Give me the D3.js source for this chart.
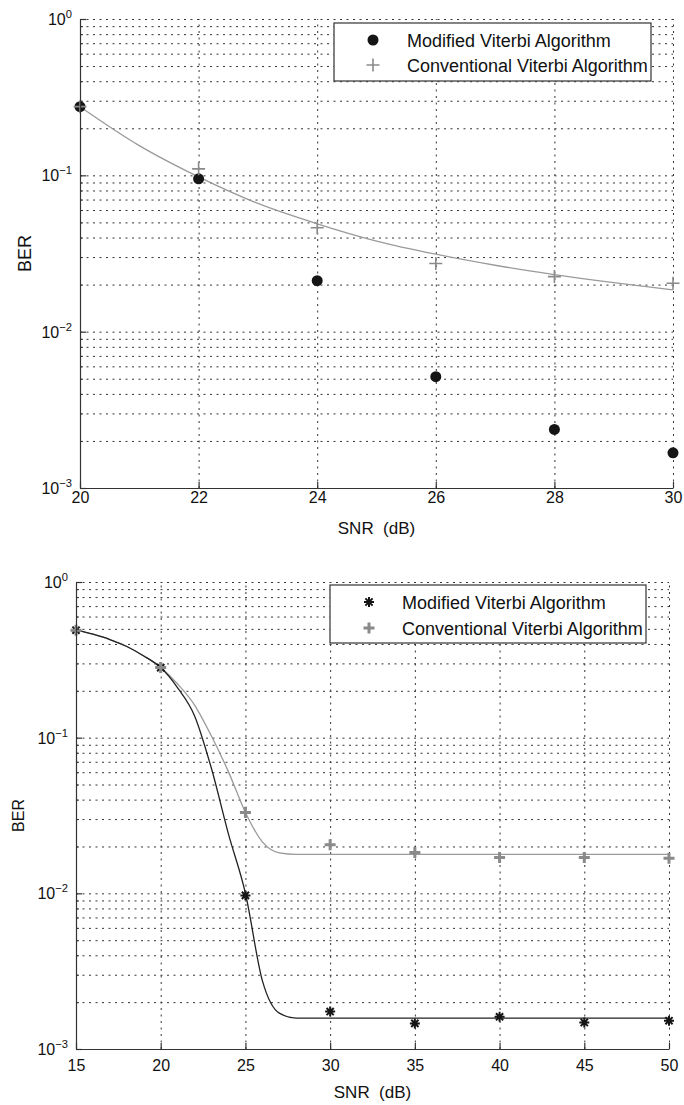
<!DOCTYPE html>
<html>
<head>
<meta charset="utf-8">
<script src="https://cdn.jsdelivr.net/npm/d3@7"></script>
<style>
  body { margin: 0; background: #fff; }
  svg text { font-family: "Liberation Sans", Arial, Helvetica, sans-serif; fill: #111; }
</style>
</head>
<body>
<svg id="fig" width="684" height="1105"></svg>
<script>
// ---- top panel: SNR 20..30 ----
const snrTop = [20, 22, 24, 26, 28, 30];
const modTop = [0.275, 0.095, 0.0212, 0.00515, 0.00237, 0.00168];
const convTop = [0.275, 0.11, 0.0462, 0.0273, 0.0225, 0.0204];
// fitted curve (conventional)
const fitSnrTop = [20, 21, 22, 23, 24, 25, 26, 27, 28, 29, 30];
const fitConvTop = [0.2748, 0.1549, 0.0977, 0.0661, 0.049, 0.038, 0.0313, 0.0266, 0.0232, 0.0206, 0.0185];

// ---- bottom panel: SNR 15..50 ----
const snrBot = [15, 20, 25, 30, 35, 40, 45, 50];
const modBot = [0.49, 0.282, 0.0097, 0.00174, 0.00146, 0.00161, 0.00148, 0.00152];
const convBot = [0.49, 0.282, 0.033, 0.0205, 0.0183, 0.017, 0.017, 0.0168];
const fitSnrBot = [15, 16, 17, 18, 19, 20, 21, 22, 23, 24, 25, 26, 27, 28, 30, 35, 40, 45, 50];
const fitModBot = [0.492, 0.462, 0.427, 0.385, 0.335, 0.282, 0.209, 0.138, 0.0631, 0.024, 0.01, 0.00275, 0.0017, 0.00158, 0.00158, 0.00158, 0.00158, 0.00158, 0.00158];
const fitConvBot = [0.492, 0.462, 0.427, 0.385, 0.335, 0.282, 0.221, 0.162, 0.102, 0.0603, 0.0331, 0.0214, 0.0182, 0.0178, 0.0178, 0.0178, 0.0178, 0.0178, 0.0178];

const xTicksTop = [20, 22, 24, 26, 28, 30];
const xTicksBot = [15, 20, 25, 30, 35, 40, 45, 50];
const decades = [1e-3, 1e-2, 1e-1, 1];
const legendLabels = ['Modified Viterbi Algorithm', 'Conventional Viterbi Algorithm'];

const svg = d3.select('#fig');
svg.append('rect').attr('width', 684).attr('height', 1105).attr('fill', '#fff');

const plusPath = s => `M${-s},0H${s}M0,${-s}V${s}`;
const starPath = s => {
  const d = s * 0.72;
  return `M${-s},0H${s}M0,${-s}V${s}M${-d},${-d}L${d},${d}M${-d},${d}L${d},${-d}`;
};

function drawMarker(sel, kind) {
  if (kind === 'circle') {
    sel.append('circle').attr('r', 5.5).attr('fill', '#151515');
  } else if (kind === 'plus') {
    sel.append('path').attr('d', plusPath(6.5)).attr('stroke', '#8a8a8a').attr('stroke-width', 1.6).attr('fill', 'none');
  } else if (kind === 'plusBold') {
    sel.append('path').attr('d', plusPath(5.5)).attr('stroke', '#8a8a8a').attr('stroke-width', 3).attr('fill', 'none');
  } else if (kind === 'star') {
    sel.append('path').attr('d', starPath(5)).attr('stroke', '#151515').attr('stroke-width', 2).attr('fill', 'none');
  }
}

function panel(cfg) {
  const g = svg.append('g');
  const x = d3.scaleLinear().domain(cfg.xDomain).range([cfg.left, cfg.right]);
  const y = d3.scaleLog().domain([1e-3, 1]).range([cfg.bottom, cfg.top]);

  // dotted grid, major and minor on the log axis
  const grid = g.append('g').attr('stroke', '#333').attr('stroke-width', 1).attr('stroke-dasharray', '2,4.5');
  grid.selectAll('line.h').data(y.ticks()).join('line').attr('class', 'h')
    .attr('x1', cfg.left).attr('x2', cfg.right)
    .attr('y1', d => y(d) + 0.5).attr('y2', d => y(d) + 0.5);
  grid.selectAll('line.v').data(cfg.xTicks).join('line').attr('class', 'v')
    .attr('x1', d => x(d) + 0.5).attr('x2', d => x(d) + 0.5)
    .attr('y1', cfg.bottom).attr('y2', cfg.top);

  // fitted curves
  const line = d3.line().x(d => x(d[0])).y(d => y(d[1])).curve(d3.curveMonotoneX);
  cfg.fits.forEach(f => {
    g.append('path').datum(d3.zip(f.snr, f.ber)).attr('d', line)
      .attr('fill', 'none').attr('stroke', f.color).attr('stroke-width', 1.3);
  });

  // markers
  cfg.series.forEach(s => {
    g.append('g').selectAll('g').data(d3.zip(s.snr, s.ber)).join('g')
      .attr('transform', d => `translate(${x(d[0])},${y(d[1])})`)
      .each(function () { drawMarker(d3.select(this), s.marker); });
  });

  // axes
  const xAxis = d3.axisBottom(x).tickValues(cfg.xTicks).tickSize(-6).tickSizeOuter(0)
    .tickPadding(cfg.xPad).tickFormat(d3.format('d'));
  const xg = g.append('g').attr('transform', `translate(0,${cfg.bottom})`).call(xAxis);
  xg.attr('font-size', cfg.tickFont).attr('font-family', '"Liberation Sans", Arial, sans-serif');
  xg.selectAll('path, line').attr('stroke', '#333').attr('stroke-width', 1.2);

  const yMajor = d3.axisLeft(y).tickValues(decades).tickSize(-6).tickSizeOuter(0).tickFormat('');
  const yg = g.append('g').attr('transform', `translate(${cfg.left},0)`).call(yMajor);
  yg.selectAll('path, line').attr('stroke', '#333').attr('stroke-width', 1.2);
  const yMinor = d3.axisLeft(y).tickValues(y.ticks().filter(d => !decades.includes(d))).tickSize(-3).tickFormat('');
  const ym = g.append('g').attr('transform', `translate(${cfg.left},0)`).call(yMinor);
  ym.select('.domain').remove();
  ym.selectAll('line').attr('stroke', '#333');

  // y tick labels 10^n
  const lab = g.append('g').attr('text-anchor', 'end');
  decades.forEach(d => {
    const e = Math.round(Math.log10(d));
    const t = lab.append('text').attr('x', cfg.left - 8).attr('y', y(d) + 6)
      .attr('font-size', cfg.tickFont);
    t.append('tspan').text('10');
    t.append('tspan').attr('dy', -7).attr('font-size', cfg.tickFont * 0.7)
      .text(e === 0 ? '0' : '\u2212' + Math.abs(e));
  });

  // axis titles
  g.append('text').attr('x', (cfg.left + cfg.right) / 2).attr('y', cfg.titleY)
    .attr('text-anchor', 'middle').attr('font-size', 17).style('white-space', 'pre')
    .text('SNR  (dB)');
  g.append('text').attr('transform', `translate(${cfg.berX},${(cfg.top + cfg.bottom) / 2}) rotate(-90)`)
    .attr('text-anchor', 'middle').attr('font-size', cfg.berFont).text('BER');

  // legend
  const L = cfg.legend;
  const lg = g.append('g');
  lg.append('rect').attr('x', L.x).attr('y', L.y).attr('width', L.w).attr('height', L.h)
    .attr('fill', '#fff').attr('stroke', '#333').attr('stroke-width', 1.2);
  cfg.series.forEach((s, i) => {
    const cy = L.y + L.rows[i];
    drawMarker(lg.append('g').attr('transform', `translate(${L.mx},${cy})`), s.marker);
    lg.append('text').attr('x', L.tx).attr('y', cy + 6.5).attr('font-size', 18).text(legendLabels[i]);
  });
}

panel({
  left: 80, right: 673, top: 19, bottom: 488,
  xDomain: [20, 30], xTicks: xTicksTop, xPad: 4, tickFont: 16,
  titleY: 534, berX: 31, berFont: 18,
  fits: [{ snr: fitSnrTop, ber: fitConvTop, color: '#9a9a9a' }],
  series: [
    { snr: snrTop, ber: modTop, marker: 'circle' },
    { snr: snrTop, ber: convTop, marker: 'plus' }
  ],
  legend: { x: 334, y: 23, w: 317, h: 58, rows: [17, 42], mx: 373, tx: 407 }
});

panel({
  left: 76, right: 669, top: 582, bottom: 1049,
  xDomain: [15, 50], xTicks: xTicksBot, xPad: 11, tickFont: 16,
  titleY: 1098, berX: 24, berFont: 16,
  fits: [
    { snr: fitSnrBot, ber: fitConvBot, color: '#9a9a9a' },
    { snr: fitSnrBot, ber: fitModBot, color: '#222' }
  ],
  series: [
    { snr: snrBot, ber: modBot, marker: 'star' },
    { snr: snrBot, ber: convBot, marker: 'plusBold' }
  ],
  legend: { x: 330, y: 585, w: 316, h: 58, rows: [17, 43], mx: 369, tx: 402 }
});
</script>
</body>
</html>
